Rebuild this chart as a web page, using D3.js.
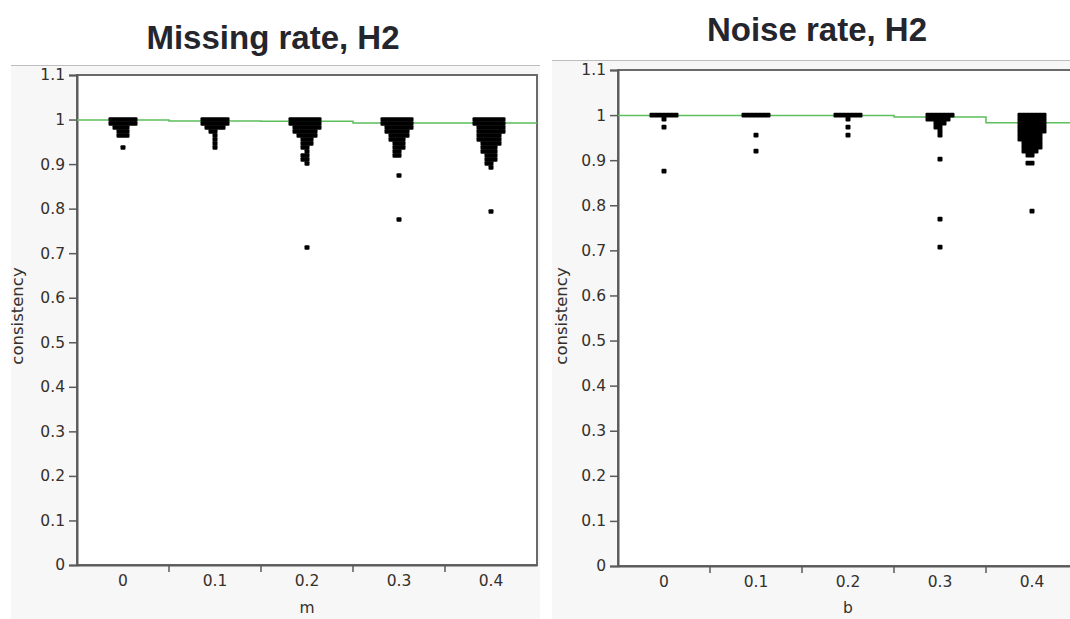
<!DOCTYPE html>
<html>
<head>
<meta charset="utf-8">
<script src="https://cdn.jsdelivr.net/npm/d3@7"></script>
<style>
  body { margin: 0; background: #ffffff; }
  svg { display: block; }
</style>
</head>
<body>
<div id="svg-container"></div>
<script>

// Categories on the x axis (same for both panels)
var categories = ["0", "0.1", "0.2", "0.3", "0.4"];

// Y axis ticks
var yTicks = [0, 0.1, 0.2, 0.3, 0.4, 0.5, 0.6, 0.7, 0.8, 0.9, 1, 1.1];

// Missing rate, H2 : consistency values, one list per m
var missing0 = [1, 1, 1, 1, 1, 1, 1, 0.993, 0.993, 0.993, 0.993, 0.993, 0.993, 0.993,
    0.985, 0.985, 0.985, 0.985, 0.977, 0.977, 0.977, 0.968, 0.968, 0.96, 0.938];
var missing1 = [1, 1, 1, 1, 1, 1, 1, 0.991, 0.991, 0.991, 0.991, 0.991, 0.991, 0.991,
    0.982, 0.982, 0.982, 0.982, 0.982, 0.973, 0.973, 0.964, 0.955, 0.946, 0.937];
var missing2 = [1, 1, 1, 1, 1, 1, 1, 1, 0.991, 0.991, 0.991, 0.991, 0.991, 0.991, 0.991, 0.991,
    0.982, 0.982, 0.982, 0.982, 0.982, 0.982, 0.982, 0.973, 0.973, 0.973, 0.973, 0.973, 0.973,
    0.964, 0.964, 0.964, 0.964, 0.964, 0.955, 0.955, 0.955, 0.946, 0.946, 0.946, 0.937, 0.937,
    0.928, 0.919, 0.919, 0.91, 0.91, 0.905, 0.71];
var missing3 = [1, 1, 1, 1, 1, 1, 1, 1, 0.991, 0.991, 0.991, 0.991, 0.991, 0.991, 0.991, 0.991,
    0.982, 0.982, 0.982, 0.982, 0.982, 0.982, 0.982, 0.973, 0.973, 0.973, 0.973, 0.973, 0.973,
    0.964, 0.964, 0.964, 0.964, 0.964, 0.955, 0.955, 0.955, 0.955, 0.946, 0.946, 0.946,
    0.937, 0.937, 0.937, 0.928, 0.928, 0.919, 0.919, 0.875, 0.775];
var missing4 = [1, 1, 1, 1, 1, 1, 1, 1, 0.991, 0.991, 0.991, 0.991, 0.991, 0.991, 0.991, 0.991,
    0.982, 0.982, 0.982, 0.982, 0.982, 0.982, 0.982, 0.973, 0.973, 0.973, 0.973, 0.973, 0.973, 0.973,
    0.964, 0.964, 0.964, 0.964, 0.964, 0.964, 0.955, 0.955, 0.955, 0.955, 0.955, 0.955,
    0.946, 0.946, 0.946, 0.946, 0.946, 0.937, 0.937, 0.937, 0.937, 0.928, 0.928, 0.928, 0.928,
    0.919, 0.919, 0.919, 0.91, 0.91, 0.91, 0.901, 0.901, 0.89, 0.79];
var missingMeans = [0.999, 0.997, 0.996, 0.9925, 0.992];

// Noise rate, H2 : consistency values, one list per b
var noise0 = [1, 1, 1, 1, 1, 1, 1, 0.99, 0.972, 0.875];
var noise1 = [1, 1, 1, 1, 1, 1, 1, 0.957, 0.917];
var noise2 = [1, 1, 1, 1, 1, 1, 1, 0.991, 0.972, 0.957];
var noise3 = [1, 1, 1, 1, 1, 1, 1, 0.991, 0.991, 0.991, 0.991, 0.991, 0.991,
    0.982, 0.982, 0.982, 0.973, 0.973, 0.965, 0.957, 0.905, 0.77, 0.71];
var noise4 = [1, 1, 1, 1, 1, 1, 1, 0.991, 0.991, 0.991, 0.991, 0.991, 0.991, 0.991,
    0.982, 0.982, 0.982, 0.982, 0.982, 0.982, 0.982, 0.973, 0.973, 0.973, 0.973, 0.973, 0.973, 0.973,
    0.964, 0.964, 0.964, 0.964, 0.964, 0.964, 0.964, 0.955, 0.955, 0.955, 0.955, 0.955, 0.955,
    0.946, 0.946, 0.946, 0.946, 0.946, 0.946, 0.937, 0.937, 0.937, 0.937, 0.937,
    0.928, 0.928, 0.928, 0.928, 0.928, 0.919, 0.919, 0.919, 0.919, 0.91, 0.91, 0.89, 0.89, 0.79];
var noiseMeans = [0.999, 0.999, 0.999, 0.996, 0.983];

var width = 1070,
    height = 619,
    dot = 4;

var labelFont = "DejaVu Sans, Verdana, sans-serif",
    labelColor = "#35302c";

var svg = d3.select("#svg-container")
    .append("svg")
    .attr("width", width)
    .attr("height", height);

// Draws one panel: background, title, axes, green mean line and the jittered dots
function drawPanel(p) {
    var g = svg.append("g");

    g.append("rect")
        .attr("x", p.panelLeft)
        .attr("y", p.panelTop)
        .attr("width", p.panelRight - p.panelLeft)
        .attr("height", height - p.panelTop)
        .attr("fill", "#f7f7f7");

    g.append("line")
        .attr("x1", p.panelLeft).attr("x2", p.panelRight)
        .attr("y1", p.panelTop + 0.5).attr("y2", p.panelTop + 0.5)
        .attr("stroke", "#bdbdbd");

    g.append("text")
        .attr("x", p.titleX)
        .attr("y", p.titleY)
        .attr("text-anchor", "middle")
        .attr("font-family", "Liberation Sans, Arial, sans-serif")
        .attr("font-weight", "bold")
        .attr("font-size", "33px")
        .attr("fill", "#25252d")
        .text(p.title);

    var x = d3.scaleBand()
        .domain(categories)
        .range([p.left, p.right]);

    var y = d3.scaleLinear()
        .domain([0, 1.1])
        .range([p.bottom, p.top]);

    // plot area
    g.append("rect")
        .attr("x", p.left)
        .attr("y", p.top)
        .attr("width", p.right - p.left)
        .attr("height", p.bottom - p.top)
        .attr("fill", "#ffffff")
        .attr("stroke", "#6a6a6a")
        .attr("stroke-width", 2);

    // y axis
    var yAxis = g.append("g")
        .attr("transform", "translate(" + p.left + ",0)")
        .call(d3.axisLeft(y)
            .tickValues(yTicks)
            .tickSize(8)
            .tickPadding(4)
            .tickFormat(function(d) { return String(+d.toFixed(1)); }));
    yAxis.select(".domain").attr("stroke", "#5a5a5a").attr("stroke-width", 2);
    yAxis.selectAll(".tick line").attr("stroke", "#5a5a5a").attr("stroke-width", 1.5);
    yAxis.selectAll(".tick text")
        .attr("font-family", labelFont)
        .attr("font-size", "15.5px")
        .attr("fill", labelColor);

    // x axis: labels at category centres, ticks at the boundaries
    var xAxis = g.append("g")
        .attr("transform", "translate(0," + p.bottom + ")")
        .call(d3.axisBottom(x).tickSize(0).tickPadding(10));
    xAxis.select(".domain").attr("stroke", "#5a5a5a").attr("stroke-width", 2);
    xAxis.selectAll(".tick text")
        .attr("font-family", labelFont)
        .attr("font-size", "15.5px")
        .attr("fill", labelColor);

    g.selectAll("line.xtick")
        .data(categories.slice(1))
        .enter().append("line")
        .attr("class", "xtick")
        .attr("x1", function(d) { return x(d); })
        .attr("x2", function(d) { return x(d); })
        .attr("y1", p.bottom)
        .attr("y2", p.bottom + 7)
        .attr("stroke", "#5a5a5a")
        .attr("stroke-width", 1.5);

    // axis titles
    g.append("text")
        .attr("x", (p.left + p.right) / 2)
        .attr("y", 613)
        .attr("text-anchor", "middle")
        .attr("font-family", labelFont)
        .attr("font-size", "15.5px")
        .attr("fill", labelColor)
        .text(p.xLabel);

    g.append("text")
        .attr("transform", "translate(" + p.yLabelX + ",316) rotate(-90)")
        .attr("text-anchor", "middle")
        .attr("font-family", labelFont)
        .attr("font-size", "16.5px")
        .attr("fill", labelColor)
        .text("consistency");

    // green mean line, one step per category
    var stepPts = categories.map(function(c, i) { return [x(c), y(p.means[i])]; });
    stepPts.push([p.right, y(p.means[p.means.length - 1])]);
    g.append("path")
        .datum(stepPts)
        .attr("fill", "none")
        .attr("stroke", "#5cbf5c")
        .attr("stroke-width", 1.5)
        .attr("d", d3.line().curve(d3.curveStepAfter));

    // dots: stacked into 4px rows, spread left/right from the category centre
    var dots = [];
    p.points.forEach(function(vals, i) {
        var cx = x(categories[i]) + x.bandwidth() / 2;
        var y1 = y(1);
        var rowCount = {};
        vals.forEach(function(v) {
            var row = Math.round((y(v) - y1) / dot);
            var k = rowCount[row] || 0;
            rowCount[row] = k + 1;
            var off = k === 0 ? 0 : (k % 2 ? -1 : 1) * Math.ceil(k / 2) * dot;
            dots.push({ x: cx + off, y: y1 + row * dot });
        });
    });

    g.selectAll("rect.dot")
        .data(dots)
        .enter().append("rect")
        .attr("class", "dot")
        .attr("x", function(d) { return d.x - 2.5; })
        .attr("y", function(d) { return d.y - 2.3; })
        .attr("width", 5)
        .attr("height", 4.6)
        .attr("rx", 1)
        .attr("fill", "#000000");
}

drawPanel({
    title: "Missing rate, H2", titleX: 273, titleY: 49,
    panelLeft: 11, panelRight: 540, panelTop: 65,
    left: 77, right: 537, top: 75, bottom: 565,
    yLabelX: 23, xLabel: "m",
    points: [missing0, missing1, missing2, missing3, missing4],
    means: missingMeans
});

drawPanel({
    title: "Noise rate, H2", titleX: 817, titleY: 41,
    panelLeft: 552, panelRight: 1070, panelTop: 60,
    left: 618, right: 1078, top: 70, bottom: 566,
    yLabelX: 567, xLabel: "b",
    points: [noise0, noise1, noise2, noise3, noise4],
    means: noiseMeans
});

</script>
</body>
</html>
